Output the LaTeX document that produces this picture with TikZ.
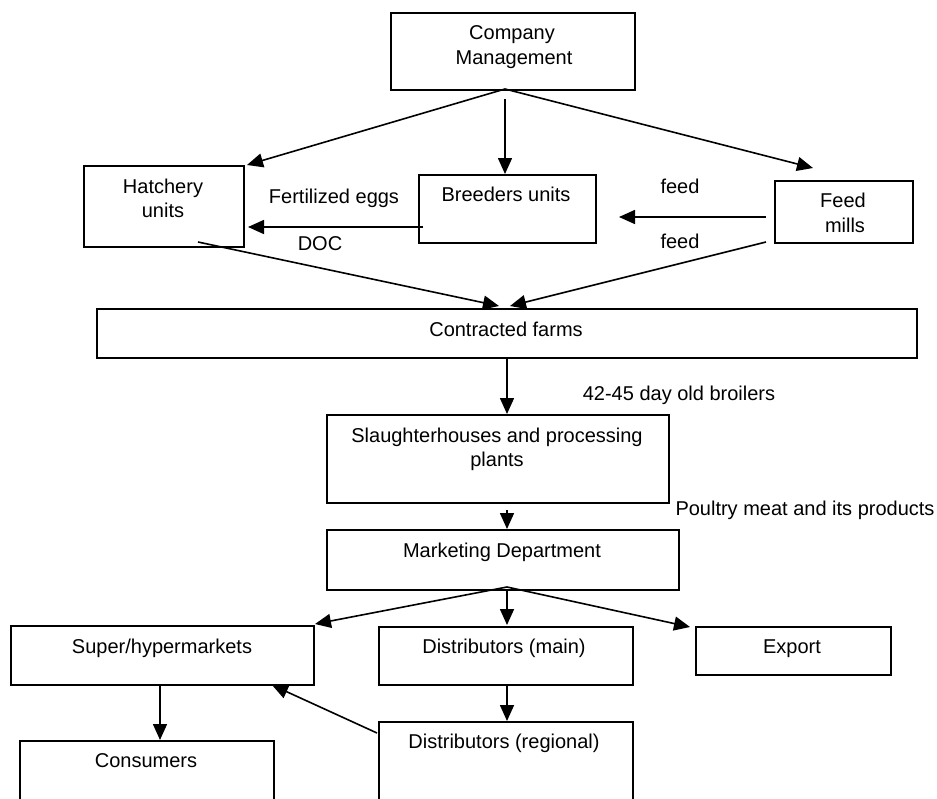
\documentclass[tikz,border=0pt]{standalone}
\usepackage{fontspec}
\setmainfont{Liberation Sans}
\usetikzlibrary{arrows.meta}
\begin{document}
\begin{tikzpicture}[x=1pt,y=-1pt,
 box/.style={draw,line width=1.6pt,inner sep=0pt,anchor=north west},
 txt/.style={inner sep=0pt,anchor=base,font=\fontsize{20}{24}\selectfont},
 arr/.style={line width=1.6pt,-{Triangle[length=16pt,width=14pt]}},
 ln/.style={line width=1.6pt}]
\clip (0,0) rectangle (937,798);
\fill[white] (0,0) rectangle (937,798);
% boxes
\node[box,minimum width=244pt,minimum height=77pt] (cm) at (390,12) {};
\node[box,minimum width=160pt,minimum height=81pt] (hat) at (83,165) {};
\node[box,minimum width=177pt,minimum height=68pt] (brd) at (418,174) {};
\node[box,minimum width=138pt,minimum height=62pt] (fm) at (774,180) {};
\node[box,minimum width=820pt,minimum height=49pt] (cf) at (96,308) {};
\node[box,minimum width=342pt,minimum height=88pt] (sl) at (326,414) {};
\node[box,minimum width=352pt,minimum height=60pt] (md) at (326,529) {};
\node[box,minimum width=303pt,minimum height=59pt] (sup) at (10,625) {};
\node[box,minimum width=254pt,minimum height=58pt] (dm) at (378,626) {};
\node[box,minimum width=195pt,minimum height=48pt] (ex) at (695,626) {};
\node[box,minimum width=254pt,minimum height=80pt] (con) at (19,740) {};
\node[box,minimum width=254pt,minimum height=100pt] (dr) at (378,721) {};
% texts
\node[txt] (t1) at (512,39) {Company};
\node[txt] (t2) at (514,64) {Management};
\node[txt] (t3) at (163,193) {Hatchery};
\node[txt] (t4) at (163,217) {units};
\node[txt] (t5) at (506,201) {Breeders units};
\node[txt] (t6) at (843,207) {Feed};
\node[txt] (t7) at (845,232) {mills};
\node[txt] (l1) at (334,203) {Fertilized eggs};
\node[txt] (l2) at (320,250) {DOC};
\node[txt] (l3) at (680,193) {feed};
\node[txt] (l4) at (680,248) {feed};
\node[txt] (t8) at (506,336) {Contracted farms};
\node[txt] (l5) at (679,400) {42-45 day old broilers};
\node[txt] (t9) at (497,442) {Slaughterhouses and processing};
\node[txt] (t10) at (497,466) {plants};
\node[txt] (l6) at (805,515) {Poultry meat and its products};
\node[txt] (t11) at (502,557) {Marketing Department};
\node[txt] (t12) at (162,653) {Super/hypermarkets};
\node[txt] (t13) at (504,653) {Distributors (main)};
\node[txt] (t14) at (792,653) {Export};
\node[txt] (t15) at (146,767) {Consumers};
\node[txt] (t16) at (504,748) {Distributors (regional)};
% connector points
\coordinate (cmA) at (505,89);
\coordinate (cmB) at (505,99);
\coordinate (hatT) at (247,165);
\coordinate (brdT) at (505,174);
\coordinate (fmT) at (813,168);
\coordinate (fmL) at (766,217);
\coordinate (brdR) at (619,217);
\coordinate (brdL) at (423,227);
\coordinate (hatR) at (248,227);
\coordinate (hatB) at (198,242);
\coordinate (fmB) at (766,242);
\coordinate (cfT1) at (499,306);
\coordinate (cfT2) at (510,306);
\coordinate (cfB) at (507,357);
\coordinate (slT) at (507,414);
\coordinate (slB) at (507,510);
\coordinate (mdT) at (507,529);
\coordinate (mdA) at (507,587);
\coordinate (mdB) at (507,589);
\coordinate (supT) at (315,624);
\coordinate (dmT) at (507,625);
\coordinate (exT) at (690,627);
\coordinate (supB) at (160,684);
\coordinate (conT) at (160,740);
\coordinate (dmB) at (507,684);
\coordinate (drT) at (507,721);
\coordinate (drL) at (377,733);
\coordinate (supR) at (272,685);
% connectors
\draw[arr] (cmA) -- (hatT);
\draw[arr] (cmB) -- (brdT);
\draw[arr] (cmA) -- (fmT);
\draw[arr] (fmL) -- (brdR);
\draw[arr] (brdL) -- (hatR);
\draw[arr] (hatB) -- (cfT1);
\draw[arr] (fmB) -- (cfT2);
\draw[arr] (cfB) -- (slT);
\draw[arr] (slB) -- (mdT);
\draw[arr] (mdA) -- (supT);
\draw[arr] (mdB) -- (dmT);
\draw[arr] (mdA) -- (exT);
\draw[arr] (supB) -- (conT);
\draw[arr] (dmB) -- (drT);
\draw[arr] (drL) -- (supR);
\end{tikzpicture}
\end{document}
